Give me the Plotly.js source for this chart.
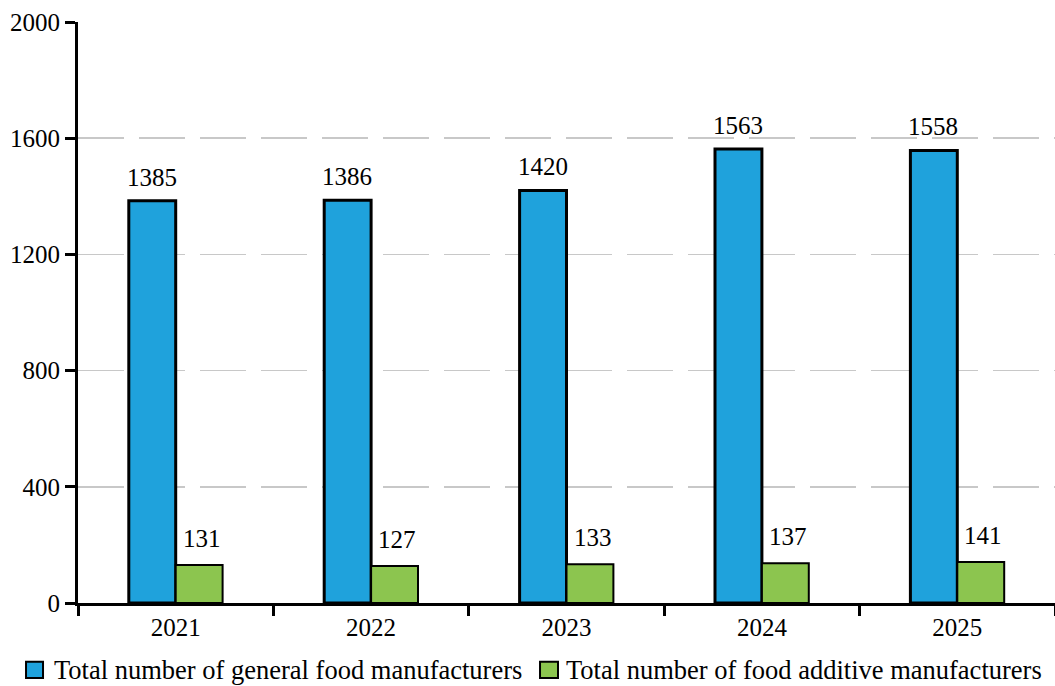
<!DOCTYPE html>
<html>
<head>
<meta charset="utf-8">
<script src="https://cdn.plot.ly/plotly-3.0.1.min.js"></script>
<style>
  html, body { margin: 0; padding: 0; background: #ffffff; }
  #chart { width: 1055px; height: 686px; }
</style>
</head>
<body>
<div id="chart"></div>
<script>
// Yearly counts of licensed manufacturers
const years = ['2021', '2022', '2023', '2024', '2025'];
const generalFood = [1385, 1386, 1420, 1563, 1558];
const foodAdditive = [131, 127, 133, 137, 141];
const seriesNames = [
  'Total number of general food manufacturers',
  'Total number of food additive manufacturers'
];
const yTicks = [0, 400, 800, 1200, 1600, 2000];

const FONT = '"Liberation Serif", "Times New Roman", serif';
const BLUE = '#1fa2dc';
const GREEN = '#8cc54f';
const TEXT_SIZE = 25;
const LEGEND_SIZE = 26.5;

const traces = [
  {
    type: 'bar', x: years, y: generalFood, name: seriesNames[0],
    marker: { color: BLUE, line: { color: '#000000', width: 3 } },
    showlegend: false, hoverinfo: 'x+y'
  },
  {
    type: 'bar', x: years, y: foodAdditive, name: seriesNames[1],
    marker: { color: GREEN, line: { color: '#000000', width: 2 } },
    showlegend: false, hoverinfo: 'x+y'
  }
];

// Value labels above each bar, shifted onto their bar within the group
const annotations = [];
years.forEach((yr, i) => {
  annotations.push({
    x: i, y: generalFood[i], xref: 'x', yref: 'y',
    text: String(generalFood[i]), showarrow: false,
    xanchor: 'center', yanchor: 'bottom', xshift: -24, yshift: 8,
    font: { family: FONT, size: TEXT_SIZE, color: '#000000' }
  });
  annotations.push({
    x: i, y: foodAdditive[i], xref: 'x', yref: 'y',
    text: String(foodAdditive[i]), showarrow: false,
    xanchor: 'center', yanchor: 'bottom', xshift: 26, yshift: 11,
    font: { family: FONT, size: TEXT_SIZE, color: '#000000' }
  });
});

// Legend row below the axis: coloured squares followed by series names
const legendY = -0.1153;
const legendItems = [
  { color: BLUE, x0: -0.0532, x1: -0.0358, tx: -0.0266 },
  { color: GREEN, x0: 0.4729, x1: 0.4913, tx: 0.4975 }
];
const shapes = [];
legendItems.forEach((item, k) => {
  shapes.push({
    type: 'rect', xref: 'paper', yref: 'paper',
    x0: item.x0, x1: item.x1, y0: legendY - 0.0140, y1: legendY + 0.0140,
    fillcolor: item.color, line: { color: '#000000', width: 2 }
  });
  annotations.push({
    x: item.tx, y: legendY, xref: 'paper', yref: 'paper',
    text: seriesNames[k], showarrow: false,
    xanchor: 'left', yanchor: 'middle',
    font: { family: FONT, size: LEGEND_SIZE, color: '#000000' }
  });
});

const layout = {
  width: 1055, height: 686,
  margin: { l: 78, r: 0, t: 22, b: 83, pad: 0 },
  paper_bgcolor: '#ffffff', plot_bgcolor: '#ffffff',
  font: { family: FONT, size: TEXT_SIZE, color: '#000000' },
  barmode: 'group', bargap: 0.52, bargroupgap: 0,
  showlegend: false,
  xaxis: {
    type: 'category', categoryorder: 'array', categoryarray: years,
    range: [-0.5, years.length - 0.5], autorange: false,
    showline: true, linecolor: '#000000', linewidth: 3,
    ticks: 'outside', tickson: 'boundaries', ticklen: 10, tickwidth: 3, tickcolor: '#000000',
    showgrid: false, zeroline: false, tickangle: 0,
    tickfont: { family: FONT, size: TEXT_SIZE, color: '#000000' }
  },
  yaxis: {
    range: [0, 2000], autorange: false, tickmode: 'array', tickvals: yTicks, ticktext: yTicks.map(String),
    showline: true, linecolor: '#000000', linewidth: 3,
    ticks: 'outside', ticklen: 10, tickwidth: 3, tickcolor: '#000000',
    showgrid: true, gridcolor: '#c8c8c8', gridwidth: 1.5, griddash: '46px,15px',
    zeroline: false,
    tickfont: { family: FONT, size: TEXT_SIZE, color: '#000000' }
  },
  annotations: annotations,
  shapes: shapes
};

Plotly.newPlot('chart', traces, layout, { displayModeBar: false, staticPlot: true });
</script>
</body>
</html>
